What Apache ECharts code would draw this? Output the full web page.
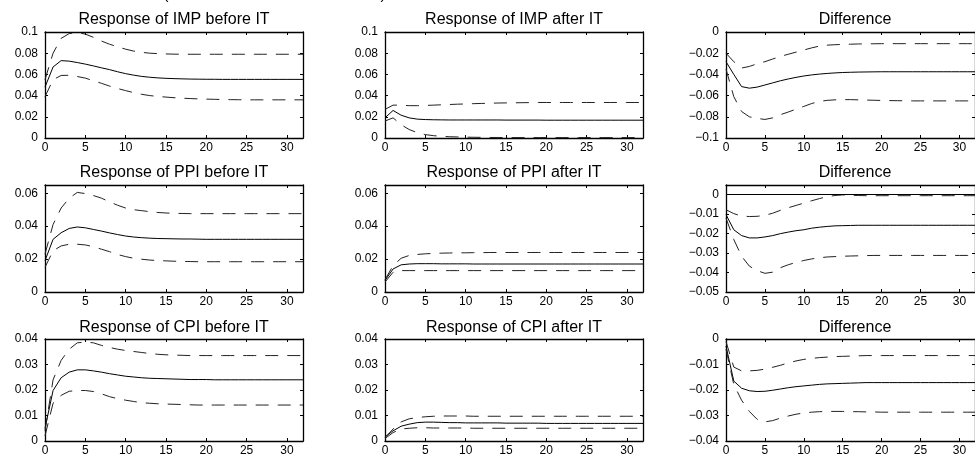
<!DOCTYPE html>
<html><head><meta charset="utf-8">
<script src="https://cdn.jsdelivr.net/npm/echarts@6/dist/echarts.min.js"></script>
<style>html,body{margin:0;padding:0;background:#fff}#c{width:975px;height:457px}</style>
</head><body><div id="c"></div>
<script>
const periods = [0,1,2,3,4,5,6,7,8,9,10,11,12,13,14,15,16,17,18,19,20,21,22,23,24,25,26,27,28,29,30,31,32];
const titles = ['Response of IMP before IT','Response of IMP after IT','Difference',
  'Response of PPI before IT','Response of PPI after IT','Difference',
  'Response of CPI before IT','Response of CPI after IT','Difference'];

const impBeforeMid = [0.048,0.067,0.073,0.0725,0.0712,0.0697,0.068,0.0662,0.0645,0.0625,0.0607,0.0593,0.0581,0.0573,0.0567,0.0563,0.056,0.0558,0.0556,0.0555,0.0554,0.0554,0.0553,0.0553,0.0553,0.0553,0.0553,0.0553,0.0553,0.0553,0.0553,0.0553,0.0553];
const impBeforeUp = [0.055,0.08,0.094,0.0985,0.0995,0.098,0.095,0.0915,0.0885,0.086,0.0838,0.082,0.0808,0.08,0.0796,0.0793,0.0791,0.079,0.079,0.079,0.079,0.079,0.079,0.079,0.079,0.079,0.079,0.079,0.079,0.079,0.079,0.079,0.079];
const impBeforeLo = [0.039,0.055,0.059,0.0592,0.058,0.0565,0.054,0.0516,0.049,0.0467,0.0447,0.0428,0.0412,0.04,0.0392,0.0386,0.038,0.0376,0.0372,0.0369,0.0367,0.0365,0.0363,0.0362,0.0361,0.036,0.036,0.036,0.036,0.036,0.036,0.036,0.036];

const impAfterMid = [0.019,0.026,0.0215,0.019,0.0178,0.0174,0.0172,0.0171,0.017,0.017,0.017,0.017,0.017,0.017,0.017,0.0169,0.0169,0.0169,0.0169,0.0169,0.0168,0.0168,0.0168,0.0168,0.0168,0.0168,0.0168,0.0168,0.0168,0.0168,0.0168,0.0168,0.0168];
const impAfterUp = [0.027,0.031,0.031,0.0305,0.0305,0.0307,0.031,0.0313,0.0316,0.0319,0.0321,0.0324,0.0326,0.0328,0.033,0.0331,0.0332,0.0333,0.0334,0.0335,0.0335,0.0335,0.0335,0.0335,0.0335,0.0335,0.0335,0.0335,0.0335,0.0335,0.0335,0.0335,0.0335];
const impAfterLo = [0.016,0.019,0.0125,0.008,0.005,0.0032,0.0022,0.0016,0.0012,0.001,0.0008,0.0007,0.0006,0.0005,0.0005,0.0004,0.0004,0.0004,0.0004,0.0004,0.0004,0.0004,0.0004,0.0004,0.0004,0.0004,0.0004,0.0004,0.0004,0.0004,0.0004,0.0004,0.0004];

const impDiffMid = [-0.028,-0.04,-0.0515,-0.053,-0.052,-0.05,-0.048,-0.046,-0.0443,-0.0428,-0.0415,-0.0405,-0.0397,-0.0391,-0.0386,-0.0382,-0.038,-0.0378,-0.0377,-0.0376,-0.0375,-0.0375,-0.0375,-0.0375,-0.0375,-0.0375,-0.0375,-0.0375,-0.0375,-0.0375,-0.0375,-0.0375,-0.0375];
const impDiffUp = [-0.02,-0.028,-0.034,-0.0325,-0.03,-0.028,-0.0255,-0.023,-0.021,-0.019,-0.017,-0.015,-0.0133,-0.0124,-0.012,-0.0117,-0.0115,-0.0113,-0.0112,-0.0111,-0.011,-0.011,-0.011,-0.011,-0.011,-0.011,-0.011,-0.011,-0.011,-0.011,-0.011,-0.011,-0.011];
const impDiffLo = [-0.035,-0.061,-0.075,-0.08,-0.0815,-0.0825,-0.081,-0.078,-0.0755,-0.0728,-0.0702,-0.0675,-0.0655,-0.0645,-0.064,-0.0638,-0.0638,-0.064,-0.0642,-0.0644,-0.0646,-0.0647,-0.0648,-0.0649,-0.065,-0.065,-0.065,-0.065,-0.065,-0.065,-0.065,-0.065,-0.065];

const ppiBeforeMid = [0.019,0.032,0.036,0.0386,0.0395,0.039,0.038,0.037,0.0359,0.0349,0.034,0.0334,0.033,0.0327,0.0325,0.0324,0.0323,0.0322,0.0322,0.0321,0.032,0.032,0.032,0.032,0.032,0.032,0.032,0.032,0.032,0.032,0.032,0.032,0.032];
const ppiBeforeUp = [0.023,0.041,0.051,0.057,0.0605,0.0598,0.0586,0.057,0.0548,0.0527,0.051,0.05,0.0494,0.0488,0.0483,0.048,0.0478,0.0477,0.0476,0.0476,0.0476,0.0476,0.0476,0.0476,0.0476,0.0476,0.0476,0.0476,0.0476,0.0476,0.0476,0.0476,0.0476];
const ppiBeforeLo = [0.015,0.025,0.028,0.029,0.029,0.0286,0.0275,0.026,0.0245,0.0228,0.0215,0.0205,0.0199,0.0194,0.0191,0.0189,0.0187,0.0186,0.0185,0.0184,0.0184,0.0184,0.0184,0.0184,0.0184,0.0184,0.0184,0.0184,0.0184,0.0184,0.0184,0.0184,0.0184];

const ppiAfterMid = [0.007,0.014,0.0165,0.017,0.0172,0.0172,0.0172,0.0171,0.0171,0.0171,0.0171,0.017,0.017,0.017,0.017,0.017,0.017,0.017,0.017,0.017,0.017,0.017,0.017,0.017,0.017,0.017,0.017,0.017,0.017,0.017,0.017,0.017,0.017];
const ppiAfterUp = [0.0075,0.016,0.0205,0.0222,0.0228,0.0232,0.0234,0.0236,0.0237,0.0238,0.0238,0.0239,0.0239,0.024,0.024,0.024,0.024,0.024,0.024,0.024,0.024,0.024,0.024,0.024,0.024,0.024,0.024,0.024,0.024,0.024,0.024,0.024,0.024];
const ppiAfterLo = [0.006,0.012,0.013,0.013,0.013,0.013,0.013,0.013,0.013,0.013,0.013,0.013,0.013,0.013,0.013,0.013,0.013,0.013,0.013,0.013,0.013,0.013,0.013,0.013,0.013,0.013,0.013,0.013,0.013,0.013,0.013,0.013,0.013];

const ppiDiffMid = [-0.0102,-0.018,-0.021,-0.0222,-0.0222,-0.0217,-0.021,-0.02,-0.0192,-0.0185,-0.018,-0.0172,-0.0167,-0.0163,-0.016,-0.0159,-0.0158,-0.0157,-0.0157,-0.0157,-0.0157,-0.0157,-0.0157,-0.0157,-0.0157,-0.0157,-0.0157,-0.0157,-0.0157,-0.0157,-0.0157,-0.0157,-0.0157];
const ppiDiffUp = [-0.0077,-0.0097,-0.011,-0.0112,-0.0111,-0.0106,-0.0095,-0.008,-0.0067,-0.0055,-0.0043,-0.0031,-0.002,-0.001,-0.0004,-0.0001,-0.0003,-0.0004,-0.0005,-0.0005,-0.0005,-0.0005,-0.0005,-0.0005,-0.0005,-0.0005,-0.0005,-0.0005,-0.0005,-0.0005,-0.0005,-0.0005,-0.0005];
const ppiDiffLo = [-0.012,-0.023,-0.0316,-0.0367,-0.039,-0.0404,-0.0398,-0.0375,-0.036,-0.0348,-0.0338,-0.033,-0.0324,-0.032,-0.0318,-0.0316,-0.0315,-0.0314,-0.0313,-0.0312,-0.0312,-0.0312,-0.0312,-0.0312,-0.0312,-0.0312,-0.0312,-0.0312,-0.0312,-0.0312,-0.0312,-0.0312,-0.0312];

const cpiBeforeMid = [0.005,0.0198,0.0248,0.027,0.0279,0.0279,0.0275,0.027,0.0264,0.0259,0.0254,0.0251,0.0248,0.0246,0.0245,0.0244,0.0243,0.0242,0.0241,0.0241,0.0241,0.024,0.024,0.024,0.024,0.024,0.024,0.024,0.024,0.024,0.024,0.024,0.024];
const cpiBeforeUp = [0.004,0.024,0.0316,0.036,0.0385,0.0388,0.0385,0.0375,0.0367,0.036,0.0355,0.0351,0.0347,0.0343,0.034,0.0338,0.0337,0.0336,0.0335,0.0335,0.0335,0.0335,0.0335,0.0335,0.0335,0.0335,0.0335,0.0335,0.0335,0.0335,0.0335,0.0335,0.0335];
const cpiBeforeLo = [0.002,0.0148,0.0179,0.0195,0.0198,0.0198,0.0194,0.0185,0.0174,0.0166,0.016,0.0155,0.015,0.0148,0.0146,0.0145,0.0144,0.0143,0.0142,0.0141,0.0141,0.0141,0.0141,0.0141,0.0141,0.0141,0.0141,0.0141,0.0141,0.0141,0.0141,0.0141,0.0141];

const cpiAfterMid = [0.0016,0.004,0.0058,0.0066,0.0072,0.0074,0.0074,0.0073,0.0072,0.0072,0.0071,0.0071,0.0071,0.0071,0.0071,0.007,0.007,0.007,0.007,0.007,0.0069,0.0069,0.0069,0.0069,0.0069,0.0069,0.0069,0.0069,0.0069,0.0069,0.0069,0.0069,0.0069];
const cpiAfterUp = [0.0013,0.0047,0.0075,0.0087,0.0092,0.0095,0.0097,0.0098,0.0098,0.0098,0.0098,0.0097,0.0097,0.0097,0.0097,0.0097,0.0097,0.0097,0.0097,0.0097,0.0097,0.0097,0.0097,0.0097,0.0097,0.0097,0.0097,0.0097,0.0097,0.0097,0.0097,0.0097,0.0097];
const cpiAfterLo = [0.001,0.0033,0.0047,0.005,0.0052,0.0052,0.0051,0.0051,0.0051,0.0051,0.0051,0.005,0.005,0.005,0.005,0.005,0.005,0.005,0.005,0.005,0.005,0.005,0.005,0.005,0.005,0.005,0.005,0.005,0.005,0.005,0.005,0.005,0.005];

const cpiDiffMid = [-0.0028,-0.0165,-0.0193,-0.0203,-0.0206,-0.0205,-0.0201,-0.0196,-0.0191,-0.0187,-0.0184,-0.0181,-0.0178,-0.0176,-0.0175,-0.0174,-0.0173,-0.0172,-0.0171,-0.0171,-0.0171,-0.0171,-0.0171,-0.0171,-0.0171,-0.0171,-0.0171,-0.0171,-0.0171,-0.0171,-0.0171,-0.0171,-0.0171];
const cpiDiffUp = [-0.001,-0.011,-0.0125,-0.0125,-0.0123,-0.0118,-0.0111,-0.0103,-0.0094,-0.0086,-0.008,-0.0076,-0.0073,-0.0071,-0.0069,-0.0068,-0.0067,-0.0066,-0.0065,-0.0065,-0.0065,-0.0065,-0.0065,-0.0065,-0.0065,-0.0065,-0.0065,-0.0065,-0.0065,-0.0065,-0.0065,-0.0065,-0.0065];
const cpiDiffLo = [-0.004,-0.0178,-0.024,-0.0284,-0.0315,-0.0325,-0.032,-0.031,-0.0302,-0.0295,-0.029,-0.0287,-0.0285,-0.0284,-0.0284,-0.0284,-0.0285,-0.0285,-0.0286,-0.0286,-0.0287,-0.0287,-0.0287,-0.0287,-0.0287,-0.0287,-0.0287,-0.0287,-0.0287,-0.0287,-0.0287,-0.0287,-0.0287];

const xTicks = {min: 0, max: 32, interval: 5};
const yTicks = [
  {min: 0, max: 0.1, interval: 0.02}, {min: 0, max: 0.1, interval: 0.02}, {min: -0.1, max: 0, interval: 0.02},
  {min: 0, max: 0.065, interval: 0.02}, {min: 0, max: 0.065, interval: 0.02}, {min: -0.05, max: 0.005, interval: 0.01},
  {min: 0, max: 0.04, interval: 0.01}, {min: 0, max: 0.04, interval: 0.01}, {min: -0.04, max: 0, interval: 0.01}
];
const panelData = [
  [impBeforeMid, impBeforeUp, impBeforeLo], [impAfterMid, impAfterUp, impAfterLo], [impDiffMid, impDiffUp, impDiffLo],
  [ppiBeforeMid, ppiBeforeUp, ppiBeforeLo], [ppiAfterMid, ppiAfterUp, ppiAfterLo], [ppiDiffMid, ppiDiffUp, ppiDiffLo],
  [cpiBeforeMid, cpiBeforeUp, cpiBeforeLo], [cpiAfterMid, cpiAfterUp, cpiAfterLo], [cpiDiffMid, cpiDiffUp, cpiDiffLo]
];

const FONT = '"Liberation Sans", Arial, Helvetica, sans-serif';
const lefts = [45, 385, 726], tops = [32, 185, 339], heights = [106, 107, 107], W = 258;
const titleY = [19.5, 172.5, 327.5];

function fmt(v) {
  if (Math.abs(v) < 1e-12) return '0';
  return String(+v.toFixed(4)).replace('-', '\u2212');
}
const axisLine = {show: true, onZero: false, lineStyle: {color: '#000', width: 1.3}};
const axisTick = {show: true, inside: true, length: 3, lineStyle: {color: '#000', width: 1}};

const grid = [], xAxis = [], yAxis = [], series = [], graphic = [];
for (let i = 0; i < 9; i++) {
  const r = Math.floor(i / 3), c = i % 3;
  grid.push({left: lefts[c], top: tops[r], width: W, height: heights[r], containLabel: false});
  const yt = yTicks[i];
  const hideMax = Math.abs(Math.round(yt.max / yt.interval) * yt.interval - yt.max) > 1e-9;
  xAxis.push({type: 'value', gridIndex: i, position: 'bottom', min: xTicks.min, max: xTicks.max, interval: xTicks.interval,
    axisLine, axisTick, splitLine: {show: false},
    axisLabel: {show: true, margin: 4, color: '#000', fontFamily: FONT, fontSize: 12, showMaxLabel: false, formatter: fmt}});
  xAxis.push({type: 'value', gridIndex: i, position: 'top', min: xTicks.min, max: xTicks.max, interval: xTicks.interval,
    axisLine, axisTick, splitLine: {show: false}, axisLabel: {show: false}});
  yAxis.push({type: 'value', gridIndex: i, position: 'left', min: yt.min, max: yt.max, interval: yt.interval,
    axisLine, axisTick, splitLine: {show: false},
    axisLabel: {show: true, margin: 7, color: '#000', fontFamily: FONT, fontSize: 12, showMaxLabel: !hideMax, showMinLabel: true, formatter: fmt}});
  yAxis.push({type: 'value', gridIndex: i, position: 'right', min: yt.min, max: yt.max, interval: yt.interval,
    axisLine, axisTick, splitLine: {show: false}, axisLabel: {show: false}});
  const [mid, up, lo] = panelData[i];
  const mk = (arr, dashed, extra) => Object.assign({
    type: 'line', xAxisIndex: 2 * i, yAxisIndex: 2 * i, symbol: 'none', silent: true, animation: false,
    data: periods.map((p, k) => [p, arr[k]]),
    lineStyle: dashed ? {color: '#222', width: 1, type: [13, 9]} : {color: '#000', width: 1, type: 'solid'}
  }, extra || {});
  const extra = (c === 2) ? {markLine: {silent: true, symbol: 'none', animation: false, label: {show: false},
    lineStyle: {color: '#000', width: 1, type: 'solid'}, data: [{yAxis: 0}]}} : null;
  series.push(mk(mid, false, extra));
  series.push(mk(up, true));
  series.push(mk(lo, true));
  graphic.push({type: 'text', x: lefts[c] + W / 2, y: titleY[r], silent: true,
    style: {text: titles[i], fill: '#000', font: '16px ' + FONT, textAlign: 'center', textVerticalAlign: 'middle'}});
}
graphic.push({type: 'text', x: 166, y: -5, silent: true, style: {text: '(', fill: '#000', font: '15px ' + FONT, textAlign: 'center', textVerticalAlign: 'middle'}});
graphic.push({type: 'text', x: 383, y: -5, silent: true, style: {text: ')', fill: '#000', font: '15px ' + FONT, textAlign: 'center', textVerticalAlign: 'middle'}});

const chart = echarts.init(document.getElementById('c'), null, {renderer: 'canvas'});
chart.setOption({animation: false, backgroundColor: '#fff', grid, xAxis, yAxis, series, graphic});
</script></body></html>
